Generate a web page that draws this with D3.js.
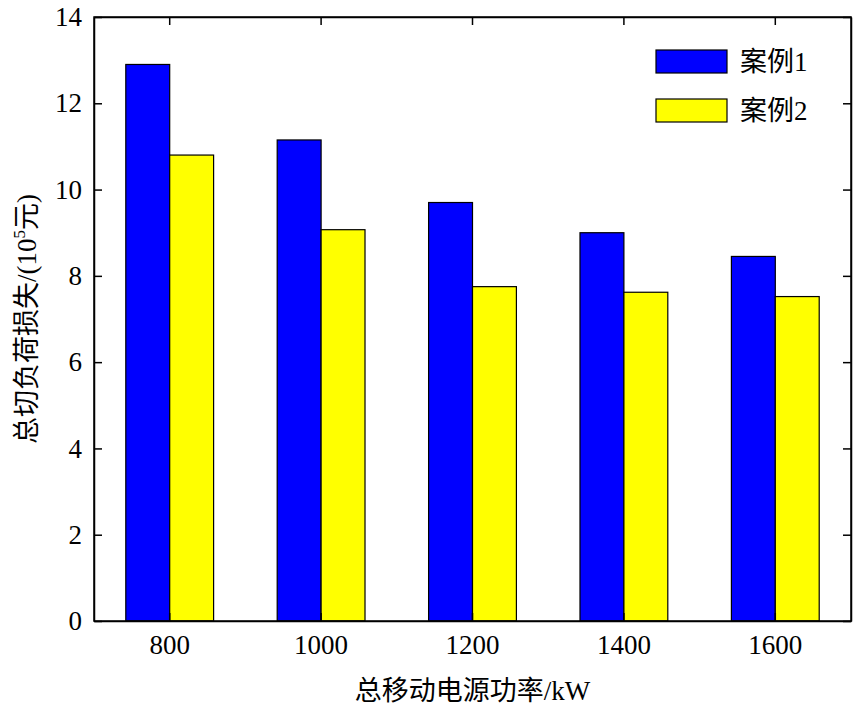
<!DOCTYPE html>
<html><head><meta charset="utf-8">
<script src="https://cdn.jsdelivr.net/npm/d3@7"></script>
<style>body{margin:0;background:#fff}text{font-family:"Liberation Serif","Noto Sans CJK SC",serif}</style>
</head><body><div id="chart"></div>
<script>
const categories = ["800", "1000", "1200", "1400", "1600"];
const case1 = [12.9, 11.15, 9.7, 9.0, 8.45];
const case2 = [10.8, 9.07, 7.75, 7.62, 7.52];
const seriesNames = ["案例1", "案例2"];
const colors = ["#0000ff", "#ffff00"];
const yTicks = [0, 2, 4, 6, 8, 10, 12, 14];

const margin = { top: 17, right: 10, bottom: 84, left: 94 };
const W = 861, H = 705;
const width = W - margin.left - margin.right;
const height = H - margin.top - margin.bottom;

const svg = d3.select("#chart").append("svg").attr("width", W).attr("height", H);
const g = svg.append("g").attr("transform", `translate(${margin.left},${margin.top})`);

const x = d3.scaleBand().domain(categories).range([0, width]).paddingInner(0.42).paddingOuter(0.21);
const xs = d3.scaleBand().domain([0, 1]).range([0, x.bandwidth()]);
const y = d3.scaleLinear().domain([0, 14]).range([height, 0]);

const data = categories.map((c, i) => ({ c, v: [case1[i], case2[i]] }));
g.selectAll(".grp").data(data).enter().append("g")
  .attr("transform", d => `translate(${x(d.c)},0)`)
  .selectAll("rect").data(d => d.v.map((v, k) => ({ v, k }))).enter().append("rect")
  .attr("x", d => xs(d.k)).attr("width", xs.bandwidth())
  .attr("y", d => y(d.v)).attr("height", d => height - y(d.v))
  .attr("fill", d => colors[d.k]).attr("stroke", "#000").attr("stroke-width", 1.2);

// axes
const yAxis = g.append("g").call(d3.axisLeft(y).tickValues(yTicks).tickSizeInner(-8).tickSizeOuter(0).tickPadding(12));
g.append("g").attr("transform", `translate(${width},0)`).call(d3.axisRight(y).tickValues(yTicks).tickSizeInner(-8).tickSizeOuter(0)).selectAll("text").remove();
const xAxis = g.append("g").attr("transform", `translate(0,${height})`).call(d3.axisBottom(x).tickSizeInner(-8).tickSizeOuter(0).tickPadding(14));
g.append("g").call(d3.axisTop(x).tickSizeInner(-8).tickSizeOuter(0)).selectAll("text").remove();
g.selectAll(".domain, .tick line").attr("stroke", "#000").attr("stroke-width", 1.5);
g.selectAll(".tick text").attr("font-size", 27).attr("fill", "#000");
g.append("rect").attr("width", width).attr("height", height).attr("fill", "none").attr("stroke", "#000").attr("stroke-width", 1.5);

// labels
svg.append("text").attr("x", margin.left + width / 2).attr("y", 700).attr("text-anchor", "middle")
  .attr("font-size", 27).text("总移动电源功率/kW");
const yl = svg.append("text").attr("transform", `translate(36,${margin.top + height / 2}) rotate(-90)`)
  .attr("text-anchor", "middle").attr("font-size", 27);
yl.append("tspan").text("总切负荷损失/(10");
yl.append("tspan").attr("font-size", 17).attr("dy", -11).text("5");
yl.append("tspan").attr("dy", 11).text("元)");

// legend
const lg = svg.append("g").attr("transform", "translate(656,50)");
seriesNames.forEach((n, i) => {
  lg.append("rect").attr("y", i * 49).attr("width", 71).attr("height", 23)
    .attr("fill", colors[i]).attr("stroke", "#000").attr("stroke-width", 1.2);
  lg.append("text").attr("x", 84).attr("y", i * 49 + 21).attr("font-size", 27).text(n);
});
</script></body></html>
